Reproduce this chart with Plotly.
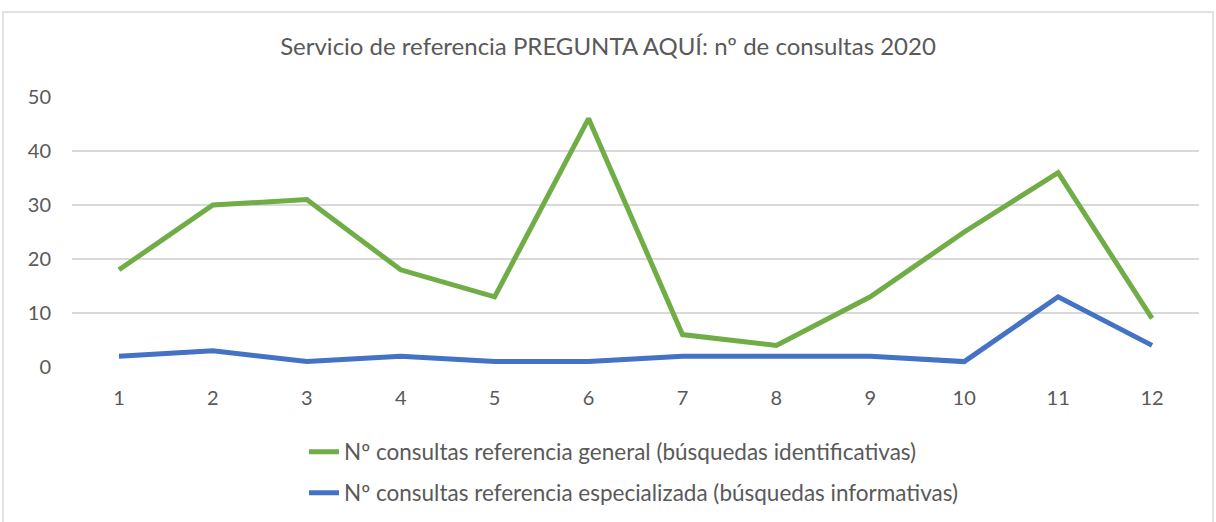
import plotly.graph_objects as go

months = [1, 2, 3, 4, 5, 6, 7, 8, 9, 10, 11, 12]
general = [18, 30, 31, 18, 13, 46, 6, 4, 13, 25, 36, 9]
especializada = [2, 3, 1, 2, 1, 1, 2, 2, 2, 1, 13, 4]
name_general = "Nº consultas referencia general (búsquedas identificativas)"
name_esp = "Nº consultas referencia especializada (búsquedas informativas)"
title = "Servicio de referencia PREGUNTA AQUÍ: nº de consultas 2020"

FONT = "Lato"
W, H = 1216, 522
L, R, T, B = 72, 17, 97, 155
pw, ph = W - L - R, H - T - B

fig = go.Figure()
fig.add_trace(go.Scatter(x=[str(m) for m in months], y=general, mode="lines", name=name_general,
                         line=dict(color="#70AD47", width=5), legend="legend"))
fig.add_trace(go.Scatter(x=[str(m) for m in months], y=especializada, mode="lines", name=name_esp,
                         line=dict(color="#4472C4", width=5), legend="legend2"))

def px_x(p):
    return (p - L) / pw

def px_y(p):
    return (H - B - p) / ph

def cont_y(p):
    return 1 - p / H

fig.update_layout(
    width=W, height=H,
    margin=dict(l=L, r=R, t=T, b=B),
    paper_bgcolor="white", plot_bgcolor="white",
    font=dict(family=FONT, color="#595959"),
    title=dict(text=title, x=0.5, xanchor="center", y=1 - 47 / H, yanchor="middle",
               font=dict(family=FONT, size=24, color="#595959")),
    xaxis=dict(type="category", range=[-0.5, 11.5], showgrid=False, zeroline=False, showline=False,
               ticks="outside", ticklen=13, tickcolor="rgba(0,0,0,0)",
               tickfont=dict(family=FONT, size=20, color="#595959"), fixedrange=True),
    yaxis=dict(range=[0, 50], tickvals=[0, 10, 20, 30, 40, 50], showgrid=True,
               gridcolor="#D9D9D9", gridwidth=1.5, zeroline=False, showline=False,
               ticks="outside", ticklen=16, tickcolor="rgba(0,0,0,0)",
               tickfont=dict(family=FONT, size=20, color="#595959"), fixedrange=True),
    legend=dict(x=px_x(304), xanchor="left", yref="container", y=cont_y(452), yanchor="middle",
                font=dict(family=FONT, size=22.5, color="#595959"), bgcolor="rgba(0,0,0,0)"),
    legend2=dict(x=px_x(304), xanchor="left", yref="container", y=cont_y(493), yanchor="middle",
                 font=dict(family=FONT, size=22.5, color="#595959"), bgcolor="rgba(0,0,0,0)"),
    showlegend=True,
)

fig.add_shape(type="rect", xref="paper", yref="paper",
              x0=px_x(3), x1=px_x(1213), y0=px_y(530), y1=px_y(12),
              line=dict(color="#D9D9D9", width=1.5), fillcolor="rgba(0,0,0,0)", layer="below")

fig.write_html("out.html", config={"displayModeBar": False},
               post_script="document.body.style.margin='0';document.body.style.overflow='hidden';")
